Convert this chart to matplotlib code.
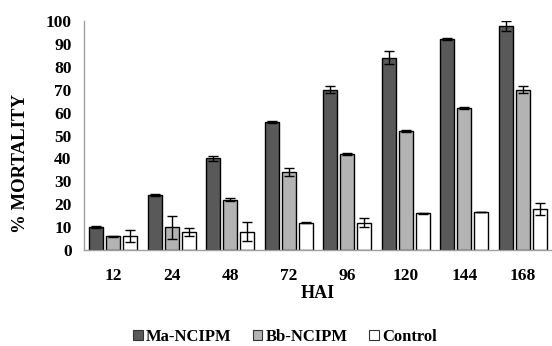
import numpy as np
import matplotlib.pyplot as plt
from matplotlib.patches import Patch

hai = ["12", "24", "48", "72", "96", "120", "144", "168"]
ma = [10, 24, 40, 56, 70, 84, 92, 98]
ma_err = [0.4, 0.5, 1.0, 0.5, 1.4, 2.8, 0.4, 2.2]
bb = [6, 10, 22, 34, 42, 52, 62, 70]
bb_err = [0.3, 5.0, 0.8, 1.6, 0.5, 0.6, 0.3, 1.4]
ctrl = [6, 8, 8, 12, 12, 16, 16.6, 18]
ctrl_err = [2.6, 1.8, 4.2, 0.2, 2.0, 0.2, 0.2, 2.5]

plt.rcParams["font.family"] = ["Liberation Serif", "DejaVu Serif"]
plt.rcParams["font.weight"] = "bold"

fig = plt.figure(figsize=(5.52, 3.46), dpi=100)
ax = fig.add_axes([84 / 552, 96 / 346, 1 - 84 / 552, 229 / 346])

x = np.arange(len(hai))
w = 0.24
step = 0.29
series = [(ma, ma_err, "#595959", "Ma-NCIPM"),
          (bb, bb_err, "#b3b3b3", "Bb-NCIPM"),
          (ctrl, ctrl_err, "white", "Control")]
for k, (vals, errs, col, lab) in enumerate(series):
    ax.bar(x + (k - 1) * step, vals, w, color=col, edgecolor="black",
           linewidth=1.0, yerr=errs, capsize=3.5,
           error_kw=dict(elinewidth=1.0, capthick=1.0, ecolor="black"))

ax.set_xlim(-0.5, 7.5)
ax.set_ylim(0, 100)
ax.set_yticks(range(0, 101, 10))
ax.set_xticks(x)
ax.set_xticklabels(hai)
ax.tick_params(axis="both", length=0, labelsize=12.5)
ax.tick_params(axis="x", pad=13)
ax.tick_params(axis="y", pad=9)
for s in ["top", "right"]:
    ax.spines[s].set_visible(False)
for s in ["left", "bottom"]:
    ax.spines[s].set_color("#a0a0a0")
    ax.spines[s].set_linewidth(1.0)

ax.set_ylabel("% MORTALITY", fontsize=13.5, fontweight="bold")
ax.yaxis.set_label_coords(-0.117, 0.38)
ax.set_xlabel("HAI", fontsize=13, fontweight="bold")
ax.xaxis.set_label_coords(0.5, -0.152)

handles = [Patch(facecolor=c, edgecolor="#333333", linewidth=0.8, label=l)
           for _, _, c, l in series]
fig.legend(handles=handles, loc="center", bbox_to_anchor=(285 / 552, 1 - 337 / 346),
           ncol=3, frameon=False, fontsize=12, handlelength=0.55, handleheight=0.55,
           handletextpad=0.2, columnspacing=1.3, borderpad=0.1)

fig.savefig("out.png", dpi=100)
